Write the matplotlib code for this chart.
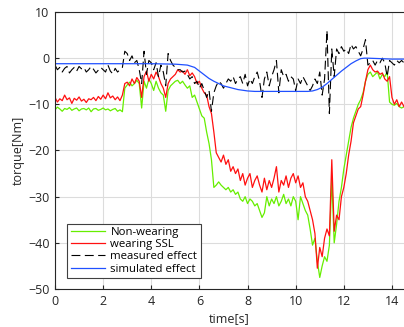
import numpy as np
import matplotlib
matplotlib.use('Agg')
import matplotlib.pyplot as plt

# sample times of the measured curves [s]
t = np.round(np.arange(0, 14.55, 0.1), 2)

non_wearing = [
    -11.2, -10.6, -11.0, -11.5, -10.9, -11.1, -10.7, -11.3, -11.0, -10.8,
    -11.4, -11.0, -10.9, -11.2, -10.8, -11.6, -11.0, -10.9, -11.3, -11.1,
    -10.8, -11.2, -11.0, -11.4, -11.1, -10.9, -11.5, -11.2, -11.6,
    -6.5, -5.8, -5.2, -6.0, -5.5, -4.8, -5.5, -10.8, -5.0, -6.5,
    -4.5, -5.5, -7.0, -5.0, -6.5, -7.5, -8.0, -11.5, -7.0, -6.0,
    -5.5, -5.0, -4.8, -5.5, -5.0, -5.8, -6.5, -6.0, -8.5, -8.0,
    -9.5, -11.0, -12.5, -13.0, -16.0, -18.5, -22.0, -28.0, -27.5, -26.8,
    -27.5, -28.0, -28.5, -28.0, -29.0, -28.5, -29.5, -29.0, -30.5, -31.0,
    -30.0, -31.5, -30.5, -31.0, -32.0, -31.5, -33.0, -34.5, -33.5, -30.0,
    -32.0, -30.5, -31.5, -30.0, -32.0, -31.0, -29.5, -31.5, -30.5, -32.0,
    -30.0, -31.0, -35.0, -30.0, -31.5, -33.0, -34.0, -37.0, -40.5, -39.0,
    -44.0, -47.5, -45.0, -43.0, -44.0, -40.5, -26.0, -40.0, -36.0, -31.0,
    -28.0, -24.0, -21.0, -18.0, -15.0, -13.0, -11.5, -10.0, -9.0, -7.5,
    -5.0, -3.5, -3.0, -4.0, -3.5, -3.0, -4.5, -3.5, -4.0, -3.0,
    -9.5, -10.0, -10.2, -9.8, -10.5, -10.8, -10.5,
]

wearing_ssl = [
    -8.5, -9.5, -8.8, -9.2, -8.0, -9.0, -8.6, -9.8, -8.7, -9.1,
    -8.4, -9.3, -8.9, -9.6, -8.8, -9.0, -8.5, -9.2, -8.3, -8.9,
    -8.0, -8.8, -7.5, -8.6, -8.2, -9.0, -8.4, -9.2, -8.0,
    -5.5, -5.2, -6.0, -4.5, -5.5, -4.2, -5.0, -8.5, -4.0, -2.8,
    -5.0, -3.5, -4.5, -3.0, -4.0, -5.5, -6.5, -8.5, -5.5, -4.5,
    -4.0, -3.5, -2.5, -3.0, -2.8, -3.5, -2.5, -3.8, -3.2, -4.0,
    -5.5, -5.0, -6.5, -7.5, -8.0, -10.5, -12.0, -16.0, -20.5, -21.5,
    -22.5, -21.0, -23.0, -22.0, -24.5, -23.5, -25.0, -24.0, -26.5, -25.0,
    -27.5, -26.0, -25.0, -28.0, -26.5, -25.5, -27.5, -29.0, -26.0, -28.5,
    -26.5, -28.0, -26.0, -23.5, -29.0, -26.5, -27.5, -25.5, -28.0, -26.0,
    -25.0, -27.0, -25.5, -28.0, -27.0, -30.0, -31.0, -33.0, -35.0, -38.0,
    -45.5, -41.0, -43.0, -39.0, -37.0, -38.5, -22.0, -37.5, -34.0, -35.0,
    -30.0, -28.0, -25.0, -21.0, -18.0, -14.0, -12.5, -11.0, -10.5, -8.0,
    -5.0, -2.5, -1.5, -2.5, -3.0, -2.8, -3.5, -3.2, -4.5, -5.0,
    -4.0, -8.5, -10.0, -9.0, -10.5, -9.5, -10.5,
]

measured = [
    -1.5, -2.5, -2.0, -3.0, -2.2, -1.8, -3.2, -2.5, -2.0, -2.8,
    -1.8, -2.3, -2.0, -3.0, -2.5, -1.8, -2.4, -3.2, -2.6, -2.0,
    -2.5, -3.0, -1.5, -2.8, -3.4, -2.2, -3.0, -2.5, -2.0,
    1.5, 1.0, -0.5, 0.5, -1.0, -0.5, -2.5, -5.5, 1.5, -3.5,
    -0.5, -1.0, -2.5, -1.0, -4.0, -1.5, -3.0, -6.0, 1.0, -0.5,
    -1.5, -2.0, -2.5, -2.5, -3.0, -2.8, -3.5, -4.5, -4.0, -5.5,
    -5.0, -6.5, -5.5, -7.0, -8.5, -7.0, -11.5, -7.5, -6.0, -5.0,
    -5.5, -6.5, -5.5, -4.5, -5.0, -4.0, -5.5, -4.5, -4.0, -5.5,
    -3.5, -6.0, -4.5, -5.5, -4.0, -3.0, -5.0, -8.5, -4.5, -3.0,
    -6.0, -4.0, -2.5, -0.5, -7.5, -2.5, -4.0, -3.5, -5.0, -4.0,
    -4.5, -7.0, -4.5, -5.5, -4.0, -5.0, -6.0, -7.0, -6.0, -4.5,
    -5.5, -3.0, -8.0, -4.5, 6.0, -12.0, 2.0, -4.0, 2.0, 1.0,
    2.5, 1.5, 2.0, 1.0, 3.0, 2.0, 2.5, 1.5, 0.5, 2.0,
    4.0, -1.5, -1.0, -0.5, -1.5, -0.5, -1.0, 0.0, -1.0, -4.0,
    -0.5, -1.0, -1.5, -0.5, -1.0, -0.5, -1.0,
]

# simulated effect, read at its bends
t_sim = [0, 1, 2, 3, 4, 5, 5.5, 5.8, 6.0, 6.2, 6.4, 6.6, 6.8, 7.0, 7.3, 7.6,
         8.0, 8.3, 9.0, 10.0, 10.5, 10.7, 10.9, 11.1, 11.3, 11.5, 11.7, 11.9,
         12.1, 12.3, 12.5, 12.7, 12.85, 13.0, 13.5, 14.0, 14.5]
simulated = [-1.2, -1.2, -1.2, -1.2, -1.2, -1.3, -1.5, -2.0, -2.8, -3.6, -4.4,
             -5.0, -5.5, -6.0, -6.4, -6.8, -7.1, -7.2, -7.2, -7.2, -7.2, -7.1,
             -6.8, -6.3, -5.5, -4.6, -3.7, -2.8, -2.0, -1.2, -0.6, -0.1, 0.0,
             0.0, -0.1, -0.2, -0.2]

plt.rcParams['font.family'] = ['Open Sans', 'DejaVu Sans']
fig = plt.figure(figsize=(4.04, 3.27), dpi=100)
ax = fig.add_axes([55 / 404, 38 / 327, 349 / 404, 277 / 327])

ax.plot(t, non_wearing, color='#66ee00', lw=0.9, label='Non-wearing')
ax.plot(t, wearing_ssl, color='#ff1010', lw=0.9, label='wearing SSL')
ax.plot(t, measured, color='black', lw=0.8, ls=(0, (8, 4)), label='measured effect')
ax.plot(t_sim, simulated, color='#2050ff', lw=0.9, label='simulated effect')

ax.set_xlim(0, 14.5)
ax.set_ylim(-50, 10)
ax.set_xticks(np.arange(0, 15, 2))
ax.set_yticks(np.arange(-50, 11, 10))
ax.grid(True, color='#dcdcdc', lw=0.8)
ax.set_axisbelow(True)
ax.tick_params(direction='in', length=3, labelsize=9, colors='#262626', pad=4)
for s in ax.spines.values():
    s.set_color('#262626')
    s.set_linewidth(0.8)
ax.spines['right'].set_visible(False)

ax.set_xlabel('time[s]', fontsize=9, color='#262626', labelpad=3)
ax.set_ylabel('torque[Nm]', fontsize=9, color='#262626', labelpad=2)

leg = ax.legend(loc='lower left', bbox_to_anchor=(0.035, 0.04), fontsize=8.2,
                handlelength=3.0, fancybox=False, framealpha=1,
                borderpad=0.3, labelspacing=0.1, handletextpad=0.5,
                borderaxespad=0)
leg.get_frame().set_edgecolor('#404040')
leg.get_frame().set_linewidth(0.8)

fig.savefig('out.png', dpi=100)
